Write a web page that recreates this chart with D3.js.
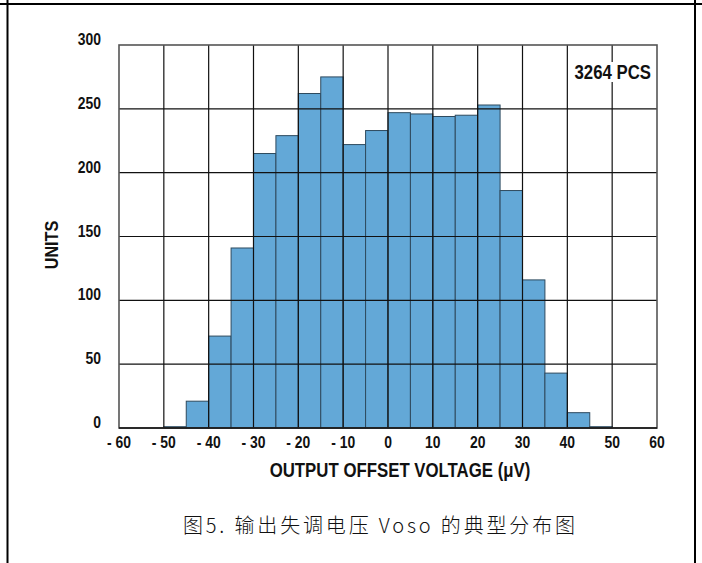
<!DOCTYPE html>
<html><head><meta charset="utf-8">
<script src="https://cdn.jsdelivr.net/npm/d3@7"></script>
<style>
html,body{margin:0;padding:0;background:#fff;}
svg{display:block;}
.lbl{font-family:"Liberation Sans",Arial,sans-serif;font-weight:bold;font-size:17px;fill:#111;}
</style></head>
<body>
<svg id="c" width="702" height="563"></svg>
<script>
// Data
const binStarts = [-50,-45,-40,-35,-30,-25,-20,-15,-10,-5,0,5,10,15,20,25,30,35,40,45];
const counts    = [1,21,72,141,215,229,262,275,222,233,247,246,244,245,253,186,116,43,12,1];
const xTicks = [-60,-50,-40,-30,-20,-10,0,10,20,30,40,50,60];
const yTicks = [0,50,100,150,200,250,300];
const binWidth = 5;
const yTitle = "UNITS";
const xTitle = "OUTPUT OFFSET VOLTAGE (\u03bcV)";
const note = "3264 PCS";
const caption = "图5. 输出失调电压 Voso 的典型分布图";

const SX = 0.82; // narrow font emulation
const svg = d3.select("#c");
const L=119, R=657, T=45, B=428;
const x = d3.scaleLinear().domain([-60,60]).range([L,R]);
const y = d3.scaleLinear().domain([0,300]).range([B,T]);

// outer frame (table lines)
svg.append("line").attr("x1",0).attr("x2",702).attr("y1",4).attr("y2",4).attr("stroke","#000").attr("stroke-width",2.2);
svg.append("line").attr("x1",7.5).attr("x2",7.5).attr("y1",0).attr("y2",563).attr("stroke","#000").attr("stroke-width",2);
svg.append("line").attr("x1",695).attr("x2",695).attr("y1",0).attr("y2",563).attr("stroke","#000").attr("stroke-width",2);

// bars
svg.append("g").selectAll("rect").data(binStarts).join("rect")
  .attr("x",(d)=>x(d))
  .attr("width",(d)=>x(d+binWidth)-x(d))
  .attr("y",(d,i)=>y(counts[i]))
  .attr("height",(d,i)=>y(0)-y(counts[i]))
  .attr("fill","#63a8d7")
  .attr("stroke","#2e4a5e")
  .attr("stroke-width",1);

// grid on top
const g = svg.append("g");
g.selectAll("line.v").data(xTicks.slice(1,-1)).join("line")
  .attr("x1",d=>x(d)).attr("x2",d=>x(d)).attr("y1",T).attr("y2",B)
  .attr("stroke","#111").attr("stroke-width",1.2);
g.selectAll("line.h").data(yTicks.slice(1,-1)).join("line")
  .attr("x1",L).attr("x2",R).attr("y1",d=>y(d)).attr("y2",d=>y(d))
  .attr("stroke","#111").attr("stroke-width",1.2);
// plot border
svg.append("rect").attr("x",L).attr("y",T).attr("width",R-L).attr("height",B-T)
  .attr("fill","none").attr("stroke","#555").attr("stroke-width",1.6);
svg.append("line").attr("x1",L).attr("x2",R).attr("y1",B).attr("y2",B).attr("stroke","#111").attr("stroke-width",1.4);

// y tick labels
svg.append("g").selectAll("text").data(yTicks).join("text")
  .attr("class","lbl")
  .attr("transform",d=>`translate(101,${y(d)-6}) scale(${SX},1)`)
  .attr("dy","0.36em").attr("text-anchor","end").text(d=>d);
// x tick labels
svg.append("g").selectAll("text").data(xTicks).join("text")
  .attr("class","lbl")
  .attr("transform",d=>`translate(${x(d)},442) scale(${SX},1)`)
  .attr("dy","0.36em").attr("text-anchor","middle").text(d=>d<0?"- "+Math.abs(d):d);

// titles
svg.append("text").attr("class","lbl").attr("transform",`translate(400,470) scale(${SX},1)`).attr("dy","0.36em")
  .attr("text-anchor","middle").style("font-size","20.5px").text(xTitle);
svg.append("text").attr("class","lbl").attr("transform",`translate(52,245) rotate(-90) scale(0.9,1)`)
  .attr("dy","0.36em").attr("text-anchor","middle").style("font-size","18px").text(yTitle);

// note with white background
const ng = svg.append("g");
const bg = ng.append("rect").attr("fill","#fff");
const nt = ng.append("text").attr("class","lbl").attr("transform",`translate(651,72) scale(0.84,1)`).attr("dy","0.36em")
  .attr("text-anchor","end").style("font-size","20px").text(note);
const bb = nt.node().getBBox();
bg.attr("x",651-bb.width*0.84-3).attr("y",72-10).attr("width",bb.width*0.84+5).attr("height",20);

// caption
svg.append("text").attr("x",183).attr("y",526).attr("dy","0.36em")
  .attr("textLength",392).attr("lengthAdjust","spacing")
  .style("font-family","'Noto Sans CJK SC',sans-serif")
  .style("font-weight","300").style("font-size","20px").style("fill","#111")
  .text(caption);
</script>
</body></html>
